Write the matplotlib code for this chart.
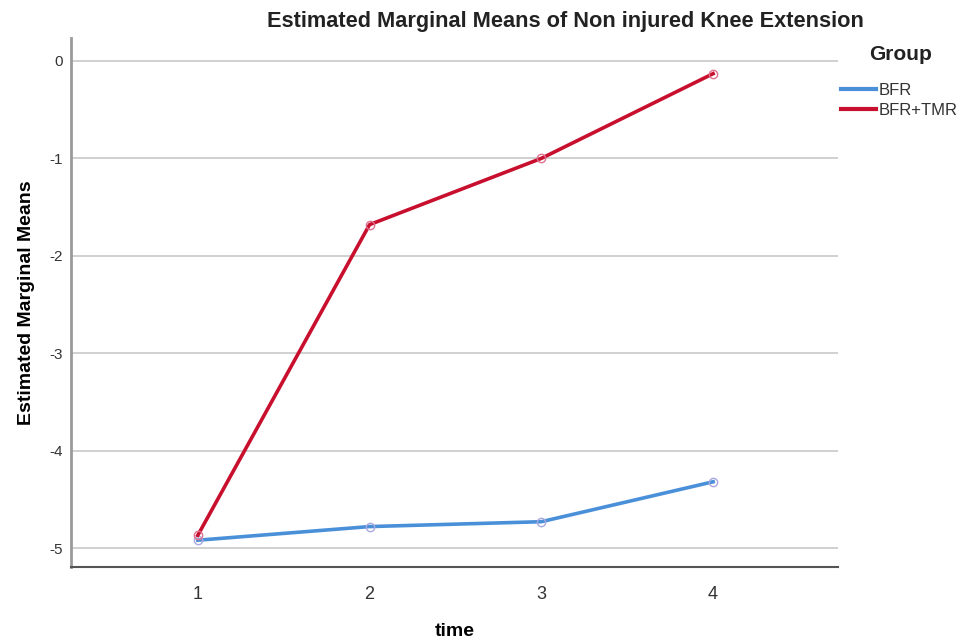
import numpy as np
import matplotlib.pyplot as plt
from matplotlib.lines import Line2D

plt.rcParams['font.family'] = ['Liberation Sans', 'DejaVu Sans']

# data
time_points = [1, 2, 3, 4]
bfr_means = [-4.92, -4.78, -4.73, -4.32]
bfr_tmr_means = [-4.87, -1.68, -1.00, -0.13]
y_ticks = [0, -1, -2, -3, -4, -5]
group_names = ['BFR', 'BFR+TMR']
group_colors = ['#4a90d9', '#c8102e']

fig = plt.figure(figsize=(9.6, 6.41), dpi=100)
ax = fig.add_axes([71 / 960, 1 - 567 / 641, (838 - 71) / 960, (567 - 38) / 641])

for yt in y_ticks:
    ax.axhline(yt, color='#c8c8c8', lw=1.2, zorder=1)

ax.plot(time_points, bfr_means, color=group_colors[0], lw=2.6, marker='o', ms=6,
        mfc='none', mec='#a9a9e0', mew=1, zorder=3)
ax.plot(time_points, bfr_tmr_means, color=group_colors[1], lw=2.6, marker='o', ms=6,
        mfc='none', mec='#e07090', mew=1, zorder=4)

ax.set_xlim(0.262, 4.727)
ax.set_ylim(-5.195, 0.236)
ax.set_xticks(time_points)
ax.set_yticks(y_ticks)
ax.set_yticklabels([str(v) for v in y_ticks])
ax.tick_params(axis='x', length=0, labelsize=13, colors='#333333', pad=14)
ax.tick_params(axis='y', length=0, labelsize=11, colors='#333333', pad=6)

for side in ['top', 'right']:
    ax.spines[side].set_visible(False)
ax.spines['left'].set_color('#9a9a9a')
ax.spines['left'].set_linewidth(2)
ax.spines['bottom'].set_color('#555555')
ax.spines['bottom'].set_linewidth(1.5)

ax.set_xlabel('time', fontsize=14, fontweight='bold', labelpad=14)
ax.set_ylabel('Estimated Marginal Means', fontsize=14, fontweight='bold', labelpad=10)
fig.text(0.589, 0.966, 'Estimated Marginal Means of Non injured Knee Extension',
         ha='center', va='center', fontsize=15.7, fontweight='bold', color='#222222')

# legend at the right, drawn like the SPSS one
fig.text(869 / 960, 1 - 55 / 641, 'Group', ha='left', va='center',
         fontsize=15, fontweight='bold', color='#222222')
handles = [Line2D([], [], color=c, lw=3) for c in group_colors]
leg = fig.legend(handles, group_names, loc='upper left',
                 bbox_to_anchor=(841 / 960, 1 - 83 / 641), frameon=False,
                 fontsize=12, handlelength=2.1, handletextpad=0.15,
                 labelspacing=0.3, borderaxespad=0, borderpad=0)
for t in leg.get_texts():
    t.set_color('#333333')

fig.savefig('out.png', dpi=100)
